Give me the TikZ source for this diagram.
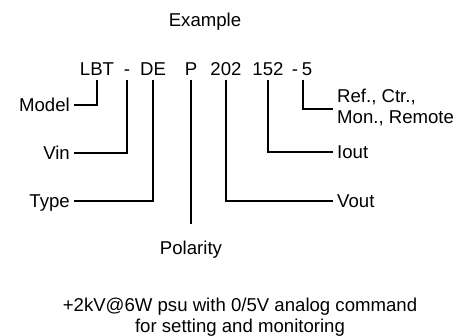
\documentclass[tikz,border=0pt]{standalone}
\usepackage{fontspec}
\setmainfont{Liberation Sans}
\begin{document}
\begin{tikzpicture}[x=1pt,y=-1pt,
  every node/.style={font=\fontsize{18.6}{21}\selectfont, inner sep=0pt},
  code/.style={anchor=base},
  lbl/.style={text height=13.3pt, text depth=0pt, inner xsep=4pt, inner ysep=0pt},
  conn/.style={line width=2.2pt}]
\useasboundingbox (0,0) rectangle (475,336);
\node[code] (ex) at (205,27) {Example};
\node[code] (lbt) at (97,76) {LBT};
\node[code] (d1) at (127,76) {-};
\node[code] (de) at (153,76) {DE};
\node[code] (p) at (191,76) {P};
\node[code] (v202) at (226,76) {202};
\node[code] (v152) at (268,76) {152};
\node[code] (d2) at (295,76) {-};
\node[code] (five) at (307,76) {5};
% labels
\node[lbl, anchor=east] (model) at (74,105) {Model};
\node[lbl, anchor=east] (vin) at (74,153) {Vin};
\node[lbl, anchor=east] (type) at (74,201) {Type};
\node[lbl, anchor=north] (pol) at (191,241) {Polarity};
\node[inner xsep=4pt, inner ysep=0pt, anchor=west, align=left] (ref) at (333,107) {Ref., Ctr.,\\Mon., Remote};
\node[lbl, anchor=west] (iout) at (333,152) {Iout};
\node[lbl, anchor=west] (vout) at (333,201) {Vout};
\node[code] (b1) at (240,312) {+2kV@6W psu with 0/5V analog command};
\node[code] (b2) at (240,333) {for setting and monitoring};
% connectors
\draw[conn] ([yshift=-4pt]lbt.base) |- (model.east);
\draw[conn] ([yshift=-4pt]d1.base) |- (vin.east);
\draw[conn] ([yshift=-4pt]de.base) |- (type.east);
\draw[conn] ([yshift=-4pt]p.base) -- ([yshift=17pt]pol.north);
\draw[conn] ([yshift=-4pt]v202.base) |- (vout.west);
\draw[conn] ([yshift=-4pt]v152.base) |- (iout.west);
\draw[conn] ([xshift=-4pt,yshift=-4pt]five.base) |- ([yshift=-2pt]ref.west);
\end{tikzpicture}
\end{document}
